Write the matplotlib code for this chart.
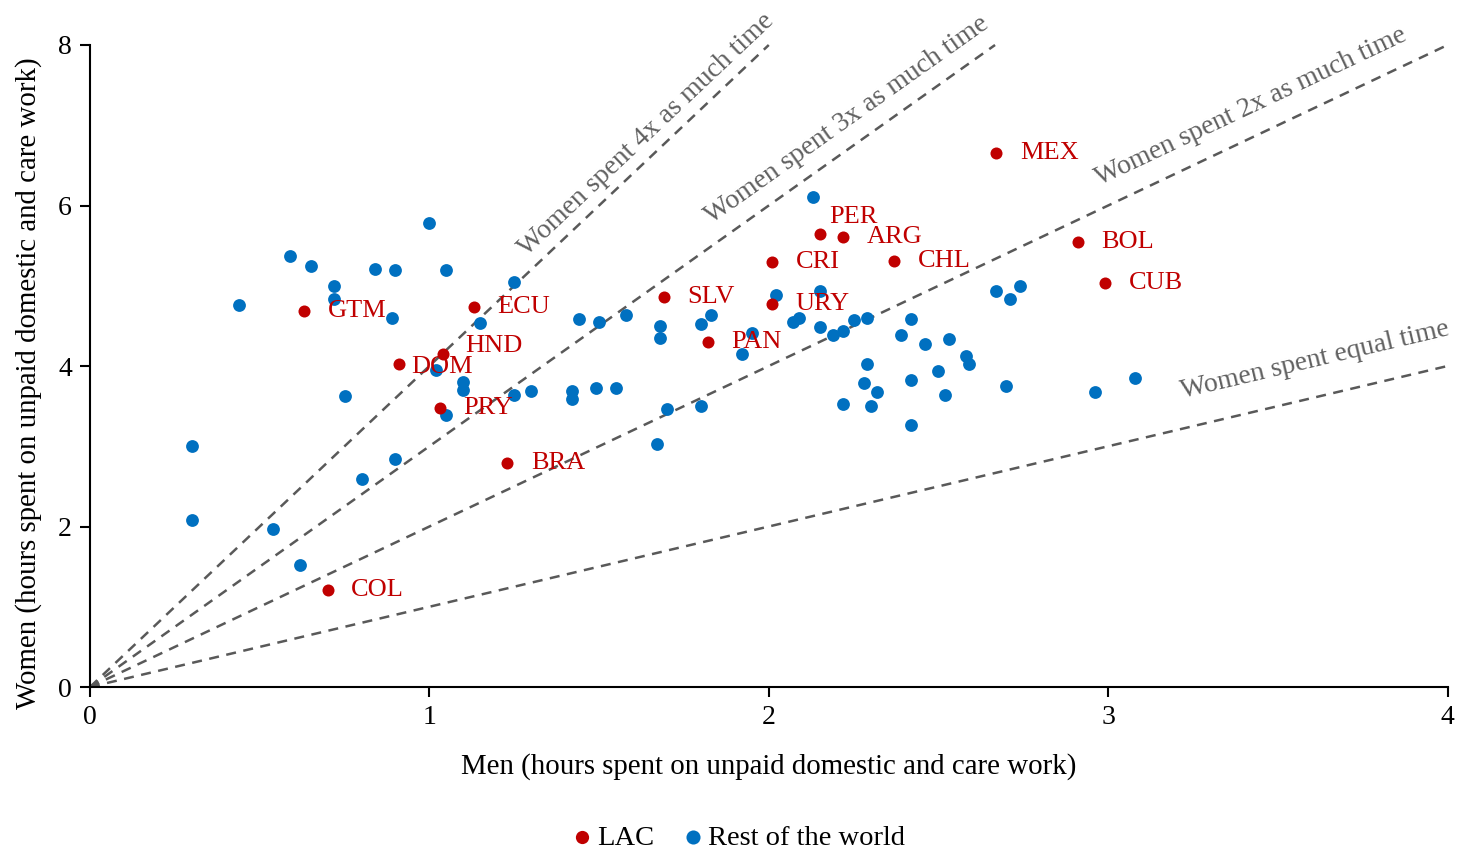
import numpy as np
import matplotlib
matplotlib.use("Agg")
import matplotlib.pyplot as plt

plt.rcParams['font.family'] = ['Liberation Serif', 'DejaVu Serif']

# Latin America and the Caribbean (hours per day)
lac_codes = ["GTM", "ECU", "HND", "DOM", "PRY", "BRA", "COL", "PER", "ARG",
             "CRI", "SLV", "URY", "PAN", "MEX", "BOL", "CUB", "CHL"]
lac_men = [0.63, 1.13, 1.04, 0.91, 1.03, 1.23, 0.70, 2.15, 2.22,
           2.01, 1.69, 2.01, 1.82, 2.67, 2.91, 2.99, 2.37]
lac_women = [4.68, 4.74, 4.15, 4.02, 3.48, 2.79, 1.21, 5.65, 5.61,
             5.30, 4.86, 4.77, 4.30, 6.66, 5.55, 5.03, 5.31]

# rest of the world
row_men = [1.00, 0.59, 0.65, 0.84, 0.90, 1.05, 1.25, 0.72, 0.72, 0.44,
           0.89, 1.15, 1.02, 1.10, 1.10, 1.25, 1.30, 0.75, 1.05, 0.30,
           0.90, 0.80, 0.30, 0.54, 0.62, 2.13, 2.15, 2.02, 1.44, 1.50,
           1.58, 1.68, 1.68, 1.80, 1.83, 1.95, 1.92, 2.07, 2.09, 2.15,
           2.19, 2.22, 2.25, 2.29, 2.42, 2.39, 2.46, 2.29, 2.28, 2.32,
           2.42, 2.50, 2.22, 2.30, 2.42, 1.42, 1.42, 1.49, 1.55, 1.70,
           1.80, 1.67, 2.67, 2.71, 2.74, 2.53, 2.58, 2.59, 2.52, 2.70,
           2.96, 3.08]
row_women = [5.78, 5.37, 5.25, 5.21, 5.20, 5.20, 5.05, 5.00, 4.84, 4.76,
             4.60, 4.54, 3.95, 3.80, 3.70, 3.64, 3.69, 3.63, 3.39, 3.00,
             2.84, 2.59, 2.08, 1.97, 1.52, 6.10, 4.94, 4.88, 4.58, 4.55,
             4.63, 4.50, 4.35, 4.52, 4.63, 4.41, 4.15, 4.55, 4.60, 4.49,
             4.39, 4.43, 4.57, 4.60, 4.58, 4.39, 4.27, 4.03, 3.79, 3.68,
             3.82, 3.94, 3.53, 3.50, 3.27, 3.69, 3.59, 3.72, 3.72, 3.46,
             3.50, 3.03, 4.93, 4.84, 5.00, 4.34, 4.13, 4.03, 3.64, 3.75,
             3.67, 3.85]

# reference lines women = k * men
ratios = [4, 3, 2, 1]
ratio_labels = ["Women spent 4x as much time", "Women spent 3x as much time",
                "Women spent 2x as much time", "Women spent equal time"]
ratio_label_pos = [(1.64, 6.88), (2.23, 7.07), (3.42, 7.23), (3.61, 4.07)]

# label offsets (points) for the few codes that are not right of the dot
label_offsets = {"DOM": (9, -2), "HND": (16, 6), "PER": (7, 12)}

red = "#C00000"
blue = "#0070C0"
grey = "#595959"

fig = plt.figure(figsize=(14.61, 8.49), dpi=100)
ax = fig.add_axes([0.0616, 0.1908, 0.9292, 0.7562])

xmax, ymax = 4, 8
for k in ratios:
    xend = min(xmax, ymax / k)
    ax.plot([0, xend], [0, k * xend], color=grey, lw=1.8,
            linestyle=(0, (4, 3)), zorder=1, clip_on=False)

for k, txt, (tx, ty) in zip(ratios, ratio_labels, ratio_label_pos):
    ang = np.degrees(np.arctan(k))
    ax.text(tx, ty, txt, rotation=ang, transform_rotates_text=True,
            rotation_mode='anchor', ha='center', va='center',
            fontsize=20, color="#606060")

ax.scatter(row_men, row_women, s=85, color=blue, zorder=3,
           linewidths=0, label="Rest of the world")
ax.scatter(lac_men, lac_women, s=75, color=red, zorder=4,
           linewidths=0, label="LAC")

for code, x, y in zip(lac_codes, lac_men, lac_women):
    off = label_offsets.get(code, (17, 0))
    ax.annotate(code, (x, y), xytext=off, textcoords='offset points',
                ha='left', va='center', fontsize=19, color=red, zorder=5)

ax.set_xlim(0, xmax)
ax.set_ylim(0, ymax)
ax.set_xticks([0, 1, 2, 3, 4])
ax.set_yticks([0, 2, 4, 6, 8])
ax.spines['top'].set_visible(False)
ax.spines['right'].set_visible(False)
for s in ['left', 'bottom']:
    ax.spines[s].set_linewidth(1.5)
ax.tick_params(direction='out', length=7, width=1.5, labelsize=20, pad=6)

ax.set_xlabel("Men (hours spent on unpaid domestic and care work)",
              fontsize=20.8)
ax.set_ylabel("Women (hours spent on unpaid domestic and care work)",
              fontsize=20.8)
ax.xaxis.set_label_coords(0.5, -0.103)
ax.yaxis.set_label_coords(-0.035, 0.474)

handles, labels = ax.get_legend_handles_labels()
fig.legend(handles[::-1], labels[::-1], loc='lower center',
           bbox_to_anchor=(0.504, -0.032), ncol=2, frameon=False,
           fontsize=20.5, handlelength=1.0, handletextpad=0.05,
           columnspacing=0.85, markerscale=1.1)

fig.savefig("out.png", dpi=100)
